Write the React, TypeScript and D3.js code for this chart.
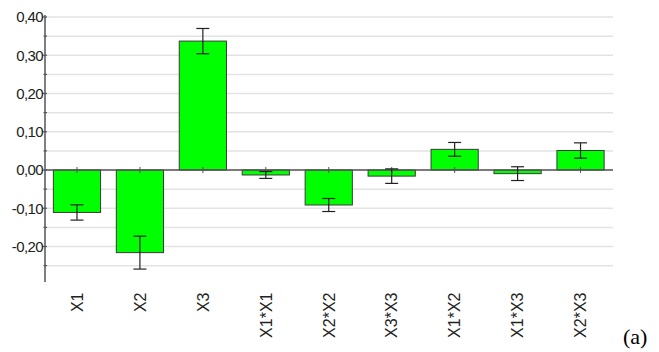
import React from "react";
import * as d3 from "d3";

const categories = ["X1", "X2", "X3", "X1*X1", "X2*X2", "X3*X3", "X1*X2", "X1*X3", "X2*X3"];
const values = [-0.111, -0.216, 0.337, -0.013, -0.0915, -0.016, 0.054, -0.0095, 0.051];
const errors = [0.02, 0.043, 0.033, 0.009, 0.017, 0.019, 0.018, 0.018, 0.02];
const yTicks = [-0.2, -0.1, 0, 0.1, 0.2, 0.3, 0.4];
const gridValues = [-0.25, -0.2, -0.15, -0.1, -0.05, 0, 0.05, 0.1, 0.15, 0.2, 0.25, 0.3, 0.35, 0.4];

const W = 659;
const H = 352;

export default function App() {
  const x = d3.scaleBand<string>().domain(categories).range([45.5, 612]).paddingInner(0.25).paddingOuter(0.125);
  const y = d3.scaleLinear().domain([-0.2915, 0.40]).range([281.5, 17]);
  const fmt = (v: number) => d3.format(".2f")(v).replace("−", "-").replace(".", ",");
  const axisX = 45;
  return (
    <svg width={W} height={H} style={{ position: "absolute", left: 0, top: 0, background: "#fff" }}>
      {gridValues.map((g) => (
        <line key={"g" + g} x1={axisX} x2={613} y1={y(g)} y2={y(g)} stroke="#e3e3e3" strokeWidth={1.5} />
      ))}
      {categories.map((c, i) => {
        const v = values[i];
        const y0 = y(0);
        const yv = y(v);
        return (
          <rect key={"b" + c} x={x(c)} width={x.bandwidth()} y={Math.min(y0, yv)} height={Math.abs(yv - y0)}
            fill="#00ff00" stroke="#3a3a3a" strokeWidth={1} />
        );
      })}
      <line x1={axisX} x2={613} y1={y(0)} y2={y(0)} stroke="#555" strokeWidth={1.3} />
      {categories.map((c) => {
        const cx = (x(c) as number) + x.bandwidth() / 2;
        return <line key={"t" + c} x1={cx} x2={cx} y1={y(0) - 3} y2={y(0) + 3} stroke="#555" strokeWidth={1} />;
      })}
      {categories.map((c, i) => {
        const cx = (x(c) as number) + x.bandwidth() / 2;
        const hi = y(values[i] + errors[i]);
        const lo = y(values[i] - errors[i]);
        return (
          <g key={"e" + c} stroke="#222" strokeWidth={1.2}>
            <line x1={cx} x2={cx} y1={hi} y2={lo} />
            <line x1={cx - 6.5} x2={cx + 6.5} y1={hi} y2={hi} />
            <line x1={cx - 6.5} x2={cx + 6.5} y1={lo} y2={lo} />
          </g>
        );
      })}
      <line x1={axisX} x2={axisX} y1={15} y2={282} stroke="#555" strokeWidth={1.5} />
      {gridValues.map((g) => {
        const major = Math.abs(Math.round(g * 10) - g * 10) < 1e-6;
        return (
          <line key={"yt" + g} x1={major ? axisX - 3 : axisX - 1.5} x2={axisX + 2} y1={y(g)} y2={y(g)} stroke="#555" strokeWidth={1.2} />
        );
      })}
      {yTicks.map((t) => (
        <text key={"yl" + t} x={axisX - 2} y={y(t)} dy="0.36em" textAnchor="end"
          fontFamily="Liberation Sans, Arial, sans-serif" fontSize={15} letterSpacing={-0.6} fill="#222">
          {fmt(t)}
        </text>
      ))}
      {categories.map((c) => {
        const cx = (x(c) as number) + x.bandwidth() / 2;
        return (
          <text key={"xl" + c} transform={`translate(${cx},292.5) rotate(-90)`} dy="0.36em" textAnchor="end"
            fontFamily="Liberation Sans, Arial, sans-serif" fontSize={16} fill="#222">
            {c}
          </text>
        );
      })}
      <text x={623} y={344} fontFamily="Liberation Serif, Times New Roman, serif" fontSize={22} fill="#000">(a)</text>
    </svg>
  );
}
